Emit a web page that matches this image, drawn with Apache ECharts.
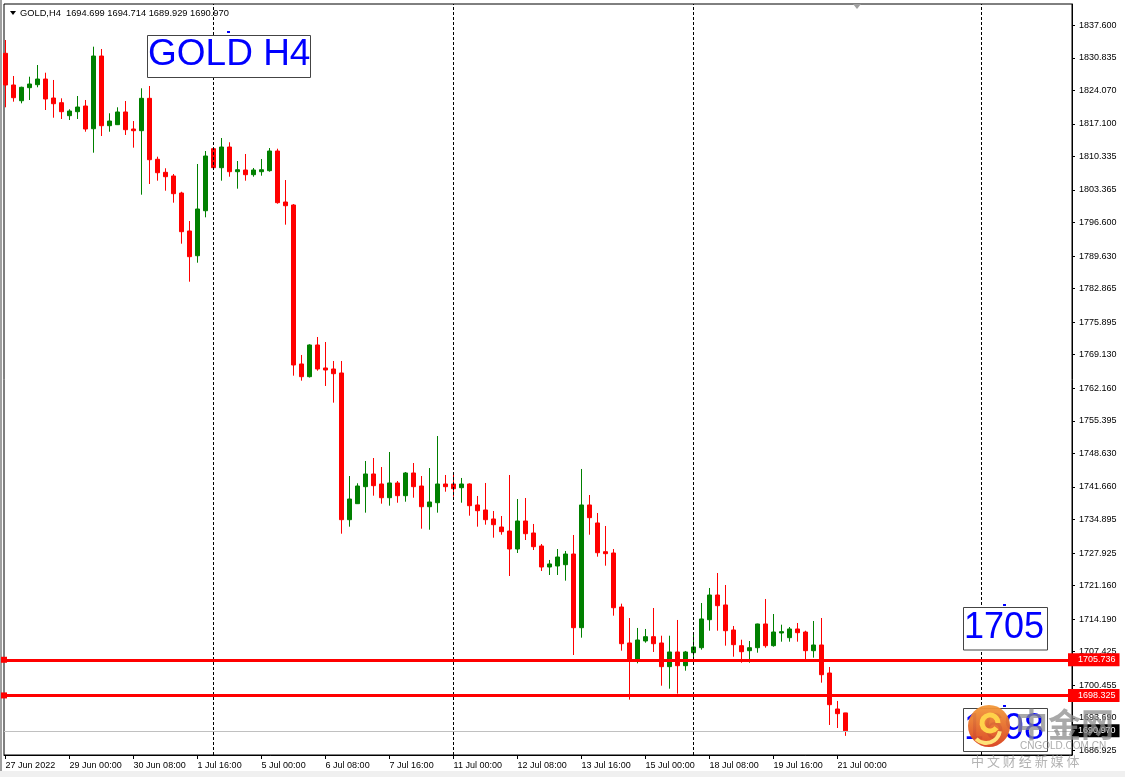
<!DOCTYPE html>
<html><head><meta charset="utf-8">
<script src="https://cdn.jsdelivr.net/npm/echarts@6/dist/echarts.min.js"></script>
<style>html,body{margin:0;padding:0;background:#fff}#c{width:1125px;height:777px}</style>
</head><body><div id="c"></div>
<script>
const symbolName = 'GOLD';
const timeframe = 'H4';
const opens = [1831.77,1825.19,1821.92,1824.63,1825.25,1826.43,1822.48,1821.51,1818.81,1819.64,
1820.82,1816.10,1831.21,1816.73,1816.94,1819.58,1816.04,1815.69,1822.42,1809.75,
1807.04,1806.28,1802.74,1794.85,1789.71,1799.06,1811.95,1808.00,1812.30,1807.17,
1807.52,1806.55,1807.17,1807.38,1811.47,1800.87,1800.25,1767.21,1764.57,1771.16,
1766.38,1766.17,1765.34,1734.85,1738.18,1741.71,1744.35,1742.27,1739.42,1742.48,
1739.84,1744.56,1741.85,1737.55,1738.38,1742.27,1742.27,1741.50,1742.27,1737.91,
1736.87,1735.00,1733.33,1732.50,1728.76,1734.58,1732.09,1729.39,1725.02,1725.23,
1725.50,1727.72,1712.41,1737.91,1734.17,1728.20,1727.93,1716.71,1709.23,1705.90,
1709.65,1710.54,1709.23,1704.31,1707.36,1704.51,1707.21,1708.25,1714.07,1719.20,
1717.13,1711.93,1708.67,1707.63,1708.25,1713.18,1708.67,1711.31,1710.33,1712.14,
1711.51,1707.63,1708.81,1702.99,1695.51,1694.699];
const highs = [1834.54,1827.06,1824.83,1826.91,1829.34,1827.74,1826.23,1822.42,1820.14,1822.90,
1822.07,1833.15,1832.67,1819.31,1820.55,1821.86,1817.70,1824.50,1824.98,1810.29,
1807.88,1806.69,1803.00,1796.92,1808.77,1811.47,1812.24,1814.17,1813.28,1809.39,
1810.85,1807.94,1809.81,1812.09,1811.95,1805.44,1800.45,1769.08,1771.30,1772.82,
1771.78,1767.83,1767.83,1743.93,1742.42,1747.05,1747.67,1745.80,1748.92,1742.89,
1744.76,1746.63,1743.93,1745.59,1752.24,1744.14,1744.70,1743.52,1742.40,1739.78,
1742.48,1736.66,1735.62,1744.14,1739.15,1739.36,1733.96,1729.80,1726.48,1728.76,
1728.35,1731.67,1745.39,1739.98,1736.24,1733.54,1728.76,1717.40,1714.42,1712.35,
1712.14,1716.50,1710.74,1710.74,1714.01,1707.57,1711.10,1717.54,1720.66,1723.77,
1721.28,1712.76,1709.91,1709.64,1713.24,1718.37,1715.25,1713.03,1712.55,1713.38,
1711.78,1713.80,1714.42,1704.24,1697.18,1694.714];
const lows = [1820.55,1821.72,1821.38,1822.07,1824.71,1819.99,1818.39,1818.12,1817.91,1818.12,
1815.48,1811.12,1814.59,1815.48,1816.87,1814.80,1812.16,1802.39,1804.61,1805.30,
1803.22,1800.73,1792.21,1784.31,1788.26,1797.69,1807.52,1805.30,1806.13,1803.64,
1805.30,1806.13,1806.34,1807.17,1800.52,1796.16,1764.78,1763.74,1764.40,1765.81,
1762.64,1759.17,1731.94,1733.40,1738.11,1736.31,1739.84,1738.18,1737.76,1738.38,
1738.59,1739.42,1732.98,1732.77,1736.31,1740.67,1739.63,1738.38,1735.68,1733.40,
1733.81,1731.11,1731.73,1723.15,1727.93,1730.63,1728.55,1724.19,1723.36,1723.36,
1722.18,1706.73,1710.33,1731.73,1727.16,1725.29,1714.90,1707.63,1697.45,1705.00,
1709.29,1707.36,1700.35,1699.73,1698.69,1703.47,1705.70,1707.84,1711.78,1711.78,
1708.67,1706.38,1705.13,1705.13,1707.21,1708.25,1708.46,1709.50,1709.50,1709.50,
1705.76,1706.18,1700.98,1692.19,1691.56,1689.929];
const closes = [1825.19,1822.55,1824.71,1825.39,1826.43,1822.28,1821.30,1819.64,1819.78,1820.61,
1816.04,1831.21,1816.73,1817.70,1819.58,1815.90,1815.69,1822.42,1809.66,1806.96,
1806.13,1802.60,1794.70,1789.51,1799.42,1810.43,1808.00,1812.30,1807.17,1807.58,
1806.55,1807.52,1807.58,1811.47,1800.73,1800.10,1767.00,1764.57,1771.16,1766.17,
1765.96,1765.19,1734.85,1739.15,1741.85,1744.35,1741.92,1739.42,1742.48,1739.84,
1744.56,1741.71,1737.55,1738.53,1742.27,1741.71,1741.29,1742.27,1737.76,1736.72,
1734.85,1733.81,1732.36,1728.76,1734.58,1731.94,1729.24,1725.02,1725.65,1727.10,
1727.72,1712.41,1737.91,1735.27,1727.99,1727.79,1716.56,1709.08,1705.70,1709.85,
1710.54,1709.08,1704.31,1707.36,1704.51,1707.36,1708.40,1714.22,1719.20,1716.98,
1711.78,1708.88,1707.42,1708.25,1713.18,1708.67,1711.51,1711.58,1712.14,1711.37,
1707.63,1708.81,1702.64,1696.41,1694.54,1690.970];

const xTickBars = [0,8,16,24,32,40,48,56,64,72,80,88,96,104];
const xTickLabels = ['27 Jun 2022','29 Jun 00:00','30 Jun 08:00','1 Jul 16:00','5 Jul 00:00','6 Jul 08:00','7 Jul 16:00','11 Jul 00:00','12 Jul 08:00','13 Jul 16:00','15 Jul 00:00','18 Jul 08:00','19 Jul 16:00','21 Jul 00:00'];
const yTickValues = [1837.600,1830.835,1824.070,1817.100,1810.335,1803.365,1796.600,1789.630,1782.865,1775.895,1769.130,1762.160,1755.395,1748.630,1741.660,1734.895,1727.925,1721.160,1714.190,1707.425,1700.455,1693.690,1686.925];
const weekSeparatorBars = [26,56,86,122];
const levelLines = [1705.736,1698.325];
const noteTexts = ['GOLD H4','1705','1698'];
const watermarkTexts = ['中金网','CNGOLD.COM.CN','中 文 财 经 新 媒 体'];

const FONT = '"Liberation Sans", Arial, sans-serif';
const n = opens.length;
const candleData = opens.map((o, i) => [i, o, closes[i], lows[i], highs[i]]);
const bid = closes[n - 1];
const headerText = symbolName + ',' + timeframe + '  ' +
  [opens[n-1], highs[n-1], lows[n-1], closes[n-1]].map(v => v.toFixed(3)).join(' ');

const sepAndBid = weekSeparatorBars.map(b => ({
  xAxis: b,
  lineStyle: {color: '#000', width: 1, type: [3, 2]}, label: {show: false}
}));
sepAndBid.push({
  yAxis: bid,
  lineStyle: {color: '#C0C0C0', width: 1, type: 'solid'},
  label: {show: true, position: 'end', formatter: bid.toFixed(3), color: '#fff',
    backgroundColor: '#000', padding: [1, 4, 1, 5], distance: 1, fontSize: 9, fontFamily: FONT, lineHeight: 11}
});
const levelData = levelLines.map(v => ({
  yAxis: v,
  lineStyle: {color: '#FF0000', width: 3, type: 'solid'},
  label: {show: true, position: 'end', formatter: v.toFixed(3), color: '#fff',
    backgroundColor: '#FF0000', padding: [1, 4, 1, 10], distance: -4, fontSize: 9, fontFamily: FONT, lineHeight: 11}
}));

const chart = echarts.init(document.getElementById('c'), null, {renderer: 'canvas'});
chart.setOption({
  animation: false,
  backgroundColor: '#fff',
  grid: {left: 4, top: 4, right: 53, bottom: 22, show: true, borderColor: '#000', borderWidth: 1},
  xAxis: {
    type: 'value', min: -0.2, max: 133.3, position: 'bottom',
    axisLine: {show: true, onZero: false, lineStyle: {color: '#000', width: 1}},
    axisTick: {show: true, customValues: xTickBars, length: 4, lineStyle: {color: '#000'}},
    axisLabel: {show: true, customValues: xTickBars,
      formatter: v => xTickLabels[xTickBars.indexOf(Math.round(v))] || '',
      align: 'left', margin: 6, padding: [0, 0, 0, 0], fontSize: 9, color: '#000', fontFamily: FONT},
    splitLine: {show: false}
  },
  yAxis: {
    type: 'value', position: 'right', min: 1685.95, max: 1842.02, scale: true,
    axisLine: {show: true, onZero: false, lineStyle: {color: '#000'}},
    axisTick: {show: true, customValues: yTickValues, length: 3, lineStyle: {color: '#000'}},
    axisLabel: {customValues: yTickValues, formatter: v => v.toFixed(3), margin: 7,
      fontSize: 9, color: '#000', fontFamily: FONT},
    splitLine: {show: false}
  },
  series: [{
    type: 'candlestick',
    data: candleData,
    encode: {x: 0, y: [1, 2, 3, 4]},
    barWidth: 4,
    itemStyle: {color: '#008000', color0: '#FF0000', borderColor: '#008000', borderColor0: '#FF0000', borderWidth: 1},
    markLine: {silent: true, animation: false, symbol: 'none', data: sepAndBid}
  }, {
    type: 'line',
    data: [],
    silent: true,
    markLine: {silent: true, animation: false, symbol: 'rect', symbolSize: 6, data: levelData}
  }],
  graphic: [
    {type: 'rect', silent: true, shape: {x: 0, y: 0, width: 2, height: 777}, style: {fill: '#A0A0A0'}},
    {type: 'rect', silent: true, shape: {x: 0, y: 771, width: 1125, height: 6}, style: {fill: '#F0F0F0'}},
    {type: 'polygon', silent: true, shape: {points: [[10, 11], [16, 11], [13, 15]]}, style: {fill: '#000'}},
    {type: 'text', silent: true, x: 20, y: 13, style: {text: headerText, fill: '#000', fontSize: 9.3, fontFamily: FONT, verticalAlign: 'middle'}},
    {type: 'polygon', silent: true, shape: {points: [[853, 4], [861, 4], [857, 9]]}, style: {fill: '#A0A0A0'}},
    {type: 'rect', silent: true, z: 50, shape: {x: 147.5, y: 35.5, width: 163, height: 42}, style: {fill: '#fff', stroke: '#444', lineWidth: 1}},
    {type: 'text', silent: true, z: 51, x: 148, y: 55, style: {text: noteTexts[0], fill: '#0000FF', fontSize: 37, fontFamily: FONT, verticalAlign: 'middle'}},
    {type: 'rect', silent: true, z: 50, shape: {x: 227, y: 31, width: 3, height: 2}, style: {fill: '#0000FF'}},
    {type: 'rect', silent: true, z: 50, shape: {x: 963.5, y: 607.5, width: 84, height: 42.5}, style: {fill: '#fff', stroke: '#444', lineWidth: 1}},
    {type: 'text', silent: true, z: 51, x: 964, y: 628.5, style: {text: noteTexts[1], fill: '#0000FF', fontSize: 36, fontFamily: FONT, verticalAlign: 'middle'}},
    {type: 'rect', silent: true, z: 50, shape: {x: 1003, y: 604, width: 3, height: 2}, style: {fill: '#0000FF'}},
    {type: 'rect', silent: true, z: 50, shape: {x: 963.5, y: 708.5, width: 84, height: 43}, style: {fill: '#fff', stroke: '#444', lineWidth: 1}},
    {type: 'text', silent: true, z: 51, x: 964, y: 729.5, style: {text: noteTexts[2], fill: '#0000FF', fontSize: 36, fontFamily: FONT, verticalAlign: 'middle'}},
    {type: 'rect', silent: true, z: 50, shape: {x: 1003, y: 705, width: 3, height: 2}, style: {fill: '#0000FF'}},
    {type: 'circle', silent: true, z: 60, shape: {cx: 989, cy: 726, r: 21},
      style: {fill: new echarts.graphic.LinearGradient(0, 0, 0, 1, [{offset: 0, color: '#F39A3A'}, {offset: 1, color: '#D9401C'}]), opacity: 0.95}},
    {type: 'arc', silent: true, z: 61, shape: {cx: 990, cy: 723, r: 8, startAngle: 0.2 * Math.PI, endAngle: 2.0 * Math.PI},
      style: {stroke: '#FFD24A', lineWidth: 5, fill: null}},
    {type: 'arc', silent: true, z: 61, shape: {cx: 986, cy: 729, r: 14, startAngle: 0.05 * Math.PI, endAngle: 0.75 * Math.PI},
      style: {stroke: '#FFE27A', lineWidth: 4, fill: null}},
    {type: 'text', silent: true, z: 60, x: 1015, y: 724, style: {text: watermarkTexts[0], fill: 'rgba(140,140,140,0.75)', fontSize: 33, fontWeight: 'bold', fontFamily: '"Noto Sans CJK SC", sans-serif', verticalAlign: 'middle'}},
    {type: 'text', silent: true, z: 60, x: 1020, y: 746, style: {text: watermarkTexts[1], fill: 'rgba(150,150,150,0.8)', fontSize: 10, fontFamily: FONT, verticalAlign: 'middle'}},
    {type: 'text', silent: true, z: 60, x: 971, y: 761, style: {text: watermarkTexts[2], fill: 'rgba(160,160,160,0.8)', fontSize: 13, fontFamily: '"Noto Sans CJK SC", sans-serif', verticalAlign: 'middle'}}
  ]
});
</script>
</body></html>
